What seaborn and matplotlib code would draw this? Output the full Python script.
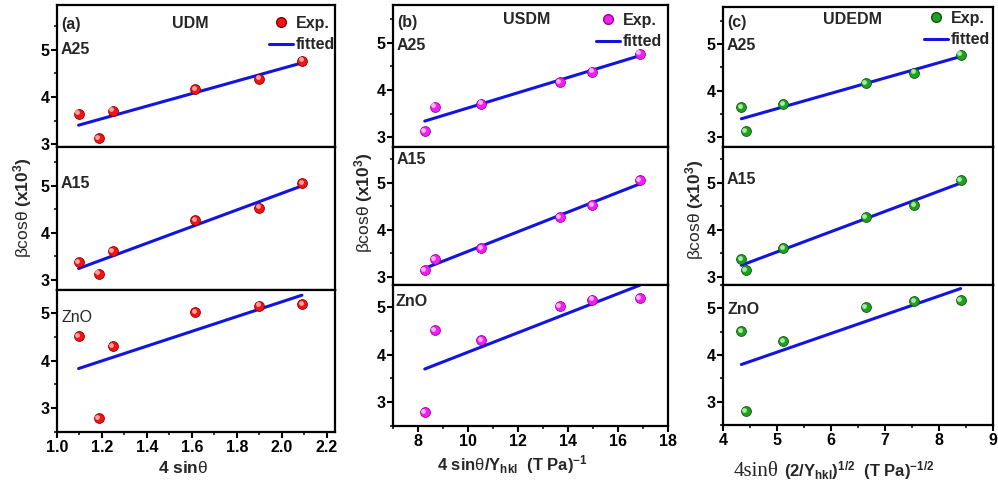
import numpy as np
import pandas as pd
import matplotlib
matplotlib.use("Agg")
import matplotlib.pyplot as plt
import seaborn as sns
from matplotlib.ticker import MultipleLocator, FuncFormatter
from matplotlib.transforms import offset_copy
from matplotlib.lines import Line2D

# ---------------- data ----------------
x_udm = [1.096, 1.185, 1.247, 1.615, 1.898, 2.089]      # 4 sin(theta)
x_usdm = [8.66, 8.27, 10.52, 13.67, 14.96, 16.87]        # 4 sin(theta)/Y_hkl
x_udedm = [4.34, 4.42, 5.11, 6.64, 7.54, 8.40]           # 4 sin(theta)(2/Y_hkl)^1/2
y_a25 = [3.65, 3.13, 3.71, 4.16, 4.39, 4.77]
y_a15 = [3.37, 3.13, 3.60, 4.26, 4.53, 5.05]
y_zno = [4.51, 2.79, 4.30, 5.02, 5.15, 5.18]
samples = ["A25", "A15", "ZnO"]
models = ["UDM", "USDM", "UDEDM"]
panel_tags = ["(a)", "(b)", "(c)"]

sns.set_theme(style="white")
plt.rcParams["font.family"] = ["Liberation Sans", "DejaVu Sans"]
plt.rcParams["mathtext.fontset"] = "custom"
plt.rcParams["mathtext.rm"] = "Liberation Sans"
plt.rcParams["mathtext.bf"] = "Liberation Sans:bold"
plt.rcParams["mathtext.it"] = "Liberation Sans:italic"

W, H = 998, 484
fig = plt.figure(figsize=(W / 100, H / 100), dpi=100)
fig.patch.set_facecolor("white")

def fx(px):
    return px / W

def fy(py):
    return 1 - py / H

cols = [
    dict(x=x_udm, l=57, r=335, rows=[(5, 147), (147, 290), (290, 432)],
         xlim=(1.0, 2.236), xmaj=0.2, xmin=0.1, fmt="{:.1f}",
         ylims=[(2.94, 5.95), (2.78, 5.82), (2.5, 5.48)],
         color="#f01414", edge="#8a0000", hi="#ffa0a0",
         tag=(61, 25), title=(190, 23), labs=[(61, 50), (61, 183), (61, 318)],
         leg=(335, 16), ylab=(23, 208)),
    dict(x=x_usdm, l=393, r=668, rows=[(5, 146.7), (146.7, 285), (285, 426)],
         xlim=(7, 18), xmaj=2, xmin=1, fmt="{:.0f}",
         ylims=[(2.8, 5.8), (2.82, 5.77), (2.5, 5.46)],
         color="#f020f0", edge="#9a009a", hi="#ffb0ff",
         tag=(397, 22), title=(527, 20), labs=[(397, 46), (397, 160), (396, 302)],
         leg=(662, 13), ylab=(364, 203)),
    dict(x=x_udedm, l=723, r=993, rows=[(6.7, 146.7), (146.7, 285), (285, 425)],
         xlim=(4, 9), xmaj=1, xmin=0.5, fmt="{:.0f}",
         ylims=[(2.8, 5.8), (2.82, 5.77), (2.5, 5.5)],
         color="#22a022", edge="#0a560a", hi="#a8e8a8",
         tag=(727, 22), title=(853, 20), labs=[(727, 46), (727, 180), (727, 310)],
         leg=(990, 11), ylab=(695, 210)),
]
ys = [y_a25, y_a15, y_zno]
line_color = "#1414e0"

for ci, c in enumerate(cols):
    for ri, (top, bot) in enumerate(c["rows"]):
        ax = fig.add_axes([fx(c["l"]), fy(bot), fx(c["r"] - c["l"]), (bot - top) / H])
        df = pd.DataFrame({"x": c["x"], "y": ys[ri]})
        sns.regplot(data=df, x="x", y="y", ax=ax, scatter=False, ci=None,
                    truncate=True, line_kws=dict(color=line_color, lw=2.2, zorder=2))
        sns.scatterplot(data=df, x="x", y="y", ax=ax, s=50, color=c["color"],
                        edgecolor=c["edge"], linewidth=0.6, zorder=3, legend=False)
        tr = offset_copy(ax.transData, fig=fig, x=-1.3, y=1.3, units="dots")
        ax.scatter(df["x"], df["y"], s=12, color=c["hi"], linewidths=0,
                   transform=tr, zorder=4)
        ax.set_xlim(*c["xlim"])
        ax.set_ylim(*c["ylims"][ri])
        ax.xaxis.set_major_locator(MultipleLocator(c["xmaj"]))
        ax.xaxis.set_minor_locator(MultipleLocator(c["xmin"]))
        ax.yaxis.set_major_locator(MultipleLocator(1))
        ax.yaxis.set_minor_locator(MultipleLocator(0.5))
        ax.set_xlabel("")
        ax.set_ylabel("")
        for s in ax.spines.values():
            s.set_linewidth(1.6)
            s.set_color("black")
        ax.tick_params(axis="y", which="major", direction="out", length=4, width=1.5,
                       left=True, right=False, labelsize=11.5, pad=1.5, colors="black")
        ax.tick_params(axis="y", which="minor", direction="out", length=2.5, width=1.3,
                       left=True, right=False)
        for t in ax.get_yticklabels():
            t.set_fontweight("bold")
        if ri == 2:
            fmt = c["fmt"]
            ax.xaxis.set_major_formatter(FuncFormatter(lambda v, p, f=fmt: f.format(v)))
            ax.tick_params(axis="x", which="major", direction="out", length=4, width=1.5,
                           bottom=True, top=False, labelsize=11.5, pad=2, colors="black")
            ax.tick_params(axis="x", which="minor", direction="out", length=2.5,
                           width=1.3, bottom=True, top=False)
            for t in ax.get_xticklabels():
                t.set_fontweight("bold")
        else:
            ax.tick_params(axis="x", which="both", bottom=False, top=False,
                           labelbottom=False)
        # sample labels
        lx, ly = c["labs"][ri]
        weight = "normal" if (ci == 0 and ri == 2) else "bold"
        fig.text(fx(lx), fy(ly), samples[ri], fontsize=11.5, fontweight=weight,
                 ha="left", va="center")
        if ri == 0:
            fig.text(fx(c["tag"][0]), fy(c["tag"][1]), panel_tags[ci], fontsize=11.5,
                     fontweight="bold", ha="left", va="center")
            fig.text(fx(c["title"][0]), fy(c["title"][1]), models[ci], fontsize=11.5,
                     fontweight="bold", ha="center", va="center")
            handles = [
                Line2D([], [], ls="none", marker="o", markersize=7,
                       markerfacecolor=c["color"], markeredgecolor=c["edge"]),
                Line2D([], [], color=line_color, lw=2.2),
            ]
            ax.legend(handles, ["Exp.", "fitted"], loc="upper right",
                      bbox_to_anchor=(fx(c["leg"][0]), fy(c["leg"][1])),
                      bbox_transform=fig.transFigure, frameon=False,
                      handlelength=1.5, handletextpad=0.15, labelspacing=0.4,
                      borderpad=0, borderaxespad=0,
                      prop=dict(weight="bold", size=11.5))
    # y label
    fig.text(fx(c["ylab"][0]), fy(c["ylab"][1]),
             r"βcosθ $\mathbf{(x10^{3})}$", rotation=90, fontsize=12.5,
             ha="center", va="center")

# x labels
fig.text(fx(183), fy(468), r"$\mathbf{4\ sin}$θ", fontsize=12.5,
         ha="center", va="center")
fig.text(fx(437), fy(465), r"$\mathbf{4\ sin}$θ$\mathbf{/Y_{hkl}\ \ (T\ Pa)^{-1}}$",
         fontsize=12, ha="left", va="center")
fig.text(fx(734), fy(476), "4sinθ", fontsize=15, family="Liberation Serif",
         ha="left", va="baseline")
fig.text(fx(784), fy(476), r"$\mathbf{(2/Y_{hkl})^{1/2}\ \ (T\ Pa)^{-1/2}}$",
         fontsize=12, ha="left", va="baseline")

fig.savefig("out.png", dpi=100)
